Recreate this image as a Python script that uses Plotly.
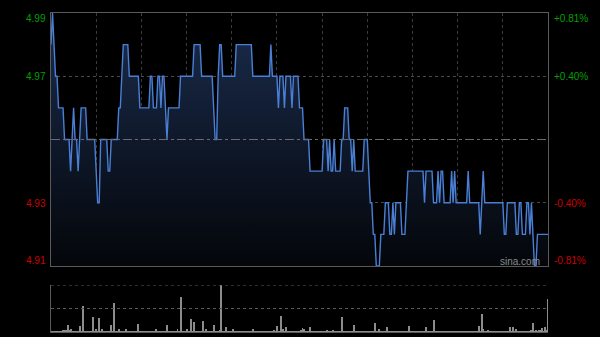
import plotly.graph_objects as go

# minute index 0..330 (HK session 09:30-12:00, 13:00-16:00)
prices = [
    4.98,4.99,4.98,4.97,4.97,4.96,4.96,4.96,4.96,4.95,
    4.95,4.95,4.95,4.94,4.95,4.96,4.95,4.95,4.94,4.95,
    4.96,4.96,4.96,4.96,4.95,4.95,4.95,4.95,4.95,4.95,
    4.94,4.93,4.93,4.95,4.95,4.95,4.95,4.95,4.94,4.94,
    4.95,4.95,4.95,4.95,4.95,4.96,4.96,4.97,4.98,4.98,
    4.98,4.98,4.97,4.97,4.97,4.97,4.97,4.97,4.97,4.96,
    4.96,4.96,4.96,4.96,4.96,4.96,4.97,4.97,4.96,4.96,
    4.96,4.97,4.97,4.96,4.97,4.97,4.96,4.95,4.96,4.96,
    4.96,4.96,4.96,4.96,4.96,4.96,4.97,4.97,4.97,4.97,
    4.97,4.97,4.97,4.97,4.97,4.98,4.98,4.98,4.98,4.98,
    4.97,4.97,4.97,4.97,4.97,4.97,4.97,4.97,4.96,4.95,
    4.95,4.97,4.98,4.98,4.97,4.97,4.97,4.97,4.97,4.97,
    4.97,4.97,4.97,4.98,4.98,4.98,4.98,4.98,4.98,4.98,
    4.98,4.98,4.98,4.98,4.97,4.97,4.97,4.97,4.97,4.97,
    4.97,4.97,4.97,4.97,4.97,4.97,4.98,4.97,4.97,4.97,
    4.97,4.96,4.97,4.97,4.97,4.96,4.97,4.97,4.97,4.97,
    4.96,4.97,4.97,4.97,4.97,4.96,4.96,4.96,4.95,4.95,
    4.95,4.95,4.94,4.94,4.94,4.94,4.94,4.94,4.94,4.94,
    4.94,4.95,4.95,4.95,4.94,4.95,4.94,4.94,4.95,4.94,
    4.94,4.94,4.94,4.95,4.95,4.96,4.96,4.96,4.95,4.95,
    4.94,4.95,4.94,4.94,4.94,4.94,4.94,4.94,4.95,4.95,
    4.95,4.94,4.93,4.93,4.92,4.92,4.91,4.91,4.91,4.92,
    4.92,4.92,4.93,4.93,4.93,4.92,4.92,4.93,4.92,4.93,
    4.93,4.93,4.93,4.92,4.92,4.92,4.93,4.94,4.94,4.94,
    4.94,4.94,4.94,4.94,4.94,4.94,4.94,4.94,4.93,4.94,
    4.94,4.94,4.94,4.94,4.93,4.93,4.93,4.94,4.93,4.94,
    4.94,4.93,4.93,4.93,4.93,4.93,4.94,4.93,4.94,4.93,
    4.93,4.93,4.93,4.93,4.93,4.93,4.93,4.94,4.93,4.93,
    4.93,4.93,4.93,4.93,4.93,4.92,4.93,4.94,4.93,4.93,
    4.93,4.93,4.93,4.93,4.93,4.93,4.93,4.93,4.93,4.93,
    4.93,4.92,4.92,4.93,4.93,4.93,4.93,4.93,4.93,4.92,
    4.92,4.93,4.93,4.92,4.92,4.92,4.93,4.93,4.92,4.93,
    4.92,4.91,4.91,4.92,4.92,4.92,4.92,4.92,4.92,4.92,
    4.92,
]

volumes = [
    2,1,1,2,1,1,2,1,3,4,
    4,15,3,6,1,2,1,2,1,13,
    2,55,1,2,1,1,2,1,32,2,
    6,2,29,1,6,2,1,1,2,1,
    15,2,62,1,2,7,1,1,2,1,
    7,1,1,2,1,1,1,2,17,1,
    1,2,1,1,1,2,1,1,1,2,
    7,1,1,2,1,1,2,15,1,1,
    2,1,1,1,6,2,75,1,2,1,
    6,1,2,28,1,21,2,1,1,2,
    1,23,1,6,1,2,1,1,15,2,
    1,2,3,100,2,1,10,1,2,1,
    1,6,1,1,2,1,1,1,2,1,
    1,1,2,1,6,1,1,1,2,1,
    1,1,1,2,1,1,1,2,4,1,
    13,2,1,33,7,2,10,1,1,2,
    1,1,2,1,1,2,3,8,6,1,
    2,1,11,1,2,1,1,1,2,1,
    1,2,1,4,1,1,2,4,1,1,
    2,1,1,32,1,2,1,1,2,1,
    1,15,2,1,1,2,1,1,1,2,
    1,1,2,1,2,19,2,1,7,1,
    2,1,1,11,1,1,2,1,1,2,
    1,1,2,1,1,1,2,1,13,1,
    1,2,1,1,1,2,1,1,2,11,
    1,1,2,1,26,1,1,2,1,1,
    2,1,1,1,2,1,1,1,2,1,
    1,1,2,1,1,1,2,1,1,1,
    2,1,1,2,13,2,38,6,1,1,
    5,1,2,1,1,1,2,1,1,2,
    1,1,2,1,1,11,2,10,1,6,
    1,2,1,1,2,1,1,2,1,3,
    19,2,3,2,5,3,8,2,10,3,
    70,
]

minutes = list(range(len(prices)))
prev_close = 4.95
y_min, y_max = 4.91, 4.99
left_labels = ["4.99", "4.97", "4.93", "4.91"]
right_labels = ["+0.81%", "+0.40%", "-0.40%", "-0.81%"]
label_colors = ["#00a000", "#00a000", "#cc0000", "#cc0000"]
label_ypix = [19, 76, 203, 260]
grid_minutes = [30, 60, 90, 120, 150, 180, 210, 240, 270, 300]

W, H = 600, 337
x0, x1 = 51 / W, 548 / W
main_dom = [1 - 266 / H, 1 - 13 / H]
vol_dom = [1 - 332 / H, 1 - 285 / H]

fig = go.Figure()
fig.add_trace(go.Scatter(
    x=minutes, y=prices, mode="lines",
    line=dict(color="#4a7fd6", width=1.4),
    fill="tozeroy",
    fillgradient=dict(type="vertical",
                      colorscale=[[0, "rgb(4,6,10)"], [1, "rgb(26,44,76)"]],
                      start=y_min, stop=y_max),
    xaxis="x", yaxis="y", hoverinfo="skip", showlegend=False,
))
fig.add_trace(go.Bar(
    x=minutes, y=volumes, width=0.65,
    marker=dict(color="#8c8c8c", line=dict(width=0)),
    xaxis="x2", yaxis="y2", hoverinfo="skip", showlegend=False,
))

shapes = [
    dict(type="line", xref="paper", yref="y", x0=x0, x1=x1, y0=prev_close, y1=prev_close,
         line=dict(color="#6a6a6a", width=1, dash="dashdot")),
    dict(type="line", xref="paper", yref="y2", x0=x0, x1=x1, y0=100, y1=100,
         line=dict(color="#5a5a5a", width=1, dash="dot")),
    dict(type="line", xref="paper", yref="y2", x0=x0, x1=x1, y0=50, y1=50,
         line=dict(color="#5a5a5a", width=1, dash="dot")),
]

annotations = []
for lab, col, yp in zip(left_labels, label_colors, label_ypix):
    annotations.append(dict(xref="paper", yref="paper", x=48 / W, y=1 - yp / H,
                            xanchor="right", yanchor="middle", text=lab, showarrow=False,
                            font=dict(family="Liberation Sans, Arial", size=10, color=col)))
for lab, col, yp in zip(right_labels, label_colors, label_ypix):
    annotations.append(dict(xref="paper", yref="paper", x=552 / W, y=1 - yp / H,
                            xanchor="left", yanchor="middle", text=lab, showarrow=False,
                            font=dict(family="Liberation Sans, Arial", size=10, color=col)))
annotations.append(dict(xref="paper", yref="paper", x=498 / W, y=1 - 261 / H,
                        xanchor="left", yanchor="middle", text="sina.com", showarrow=False,
                        font=dict(family="Liberation Sans, Arial", size=10, color="#8a8a8a")))

fig.update_layout(
    width=W, height=H,
    margin=dict(l=0, r=0, t=0, b=0),
    paper_bgcolor="#000000", plot_bgcolor="#000000",
    bargap=0,
    xaxis=dict(domain=[x0, x1], range=[0, 330], anchor="y",
               tickvals=grid_minutes, showticklabels=False, ticks="",
               showgrid=True, gridcolor="#3a3a3a", griddash="dot", gridwidth=1,
               showline=True, linecolor="#5a5a5a", linewidth=1, mirror=True,
               zeroline=False, fixedrange=True),
    yaxis=dict(domain=main_dom, range=[y_min, y_max], anchor="x",
               tickvals=[4.93, 4.97], showticklabels=False, ticks="",
               showgrid=True, gridcolor="#4a4a4a", griddash="dot", gridwidth=1,
               showline=True, linecolor="#5a5a5a", linewidth=1, mirror=True,
               zeroline=False, fixedrange=True),
    xaxis2=dict(domain=[x0, x1], range=[0, 330], anchor="y2",
                showticklabels=False, ticks="", showgrid=False,
                showline=True, linecolor="#5a5a5a", linewidth=1,
                zeroline=False, fixedrange=True),
    yaxis2=dict(domain=vol_dom, range=[0, 100], anchor="x2",
                showticklabels=False, ticks="", showgrid=False,
                showline=True, linecolor="#5a5a5a", linewidth=1,
                zeroline=False, fixedrange=True),
    shapes=shapes,
    annotations=annotations,
)

fig.write_html("out.html", config={"displayModeBar": False})
